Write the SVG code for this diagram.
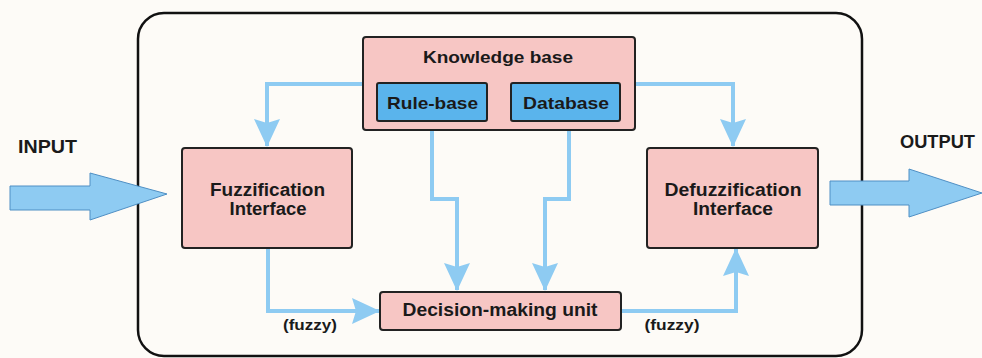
<svg xmlns="http://www.w3.org/2000/svg" width="982" height="358" viewBox="0 0 982 358">
<style>
.bg{fill:#fdfbf7}
.frame{fill:#fdfbf7;stroke:#111;stroke-width:2.5}
.pink{fill:#f7c6c4;stroke:#222;stroke-width:2}
.blue{fill:#5ab4ec;stroke:#222;stroke-width:2}
.t{font-family:"Liberation Sans",Arial,sans-serif;font-weight:bold;fill:#1a1a1a;text-anchor:middle}
.conn{fill:none;stroke:#8ecbf2;stroke-width:4;stroke-linejoin:miter}
.big{fill:#8ecbf2;stroke:#4f8fc4;stroke-width:1}
</style>
<defs>
<marker id="ah" viewBox="0 0 28 26" refX="27" refY="13" markerWidth="28" markerHeight="26" markerUnits="userSpaceOnUse" orient="auto">
<path d="M0,0 L28,13 L0,26 L4,13 Z" fill="#8ecbf2"/>
</marker>
</defs>
<rect class="bg" x="0" y="0" width="982" height="358"/>
<rect class="frame" x="138" y="13" width="724" height="343" rx="26" ry="26"/>

<g id="input">
<text class="t" x="47.5" y="153" font-size="18" textLength="59" lengthAdjust="spacingAndGlyphs">INPUT</text>
<polygon class="big" points="10,186 90,186 90,173 167,194 90,220 90,210 10,210"/>
</g>
<g id="output">
<text class="t" x="937.5" y="148" font-size="18" textLength="75" lengthAdjust="spacingAndGlyphs">OUTPUT</text>
<polygon class="big" points="830,181 909,181 909,169 982,193 909,217 909,205 830,205"/>
</g>

<g id="connectors">
<path class="conn" marker-end="url(#ah)" d="M363,84 H267 V146"/>
<path class="conn" marker-end="url(#ah)" d="M635,84 H733 V146"/>
<path class="conn" marker-end="url(#ah)" d="M432,121 V199 H457 V290"/>
<path class="conn" marker-end="url(#ah)" d="M569,121 V199 H545 V290"/>
<path class="conn" marker-end="url(#ah)" d="M268,248 V311 H379"/>
<path class="conn" marker-end="url(#ah)" d="M621,311 H736 V249"/>
</g>

<g id="knowledge-base">
<rect class="pink" x="363" y="37" width="272" height="93" rx="3"/>
<text class="t" x="498" y="63" font-size="16.5" textLength="150" lengthAdjust="spacingAndGlyphs">Knowledge base</text>
</g>
<g id="rule-base">
<rect class="blue" x="377" y="83" width="110" height="38" rx="2"/>
<text class="t" x="432.5" y="109" font-size="17" textLength="91" lengthAdjust="spacingAndGlyphs">Rule-base</text>
</g>
<g id="database">
<rect class="blue" x="511" y="83" width="109" height="38" rx="2"/>
<text class="t" x="566" y="109" font-size="17" textLength="86" lengthAdjust="spacingAndGlyphs">Database</text>
</g>
<g id="fuzzification">
<rect class="pink" x="182" y="148" width="170" height="100" rx="3"/>
<text class="t" x="267.5" y="196" font-size="18" textLength="115" lengthAdjust="spacingAndGlyphs">Fuzzification</text>
<text class="t" x="268" y="215" font-size="18" textLength="77" lengthAdjust="spacingAndGlyphs">Interface</text>
</g>
<g id="defuzzification">
<rect class="pink" x="647" y="148" width="171" height="100" rx="3"/>
<text class="t" x="733" y="196" font-size="18" textLength="137" lengthAdjust="spacingAndGlyphs">Defuzzification</text>
<text class="t" x="733" y="215" font-size="18" textLength="80" lengthAdjust="spacingAndGlyphs">Interface</text>
</g>
<g id="decision">
<rect class="pink" x="380" y="292" width="241" height="38" rx="3"/>
<text class="t" x="500" y="315.5" font-size="17.5" textLength="195" lengthAdjust="spacingAndGlyphs">Decision-making unit</text>
</g>
<text class="t" x="310" y="330" font-size="15" textLength="54" lengthAdjust="spacingAndGlyphs">(fuzzy)</text>
<text class="t" x="672" y="330" font-size="15" textLength="55" lengthAdjust="spacingAndGlyphs">(fuzzy)</text>
</svg>
